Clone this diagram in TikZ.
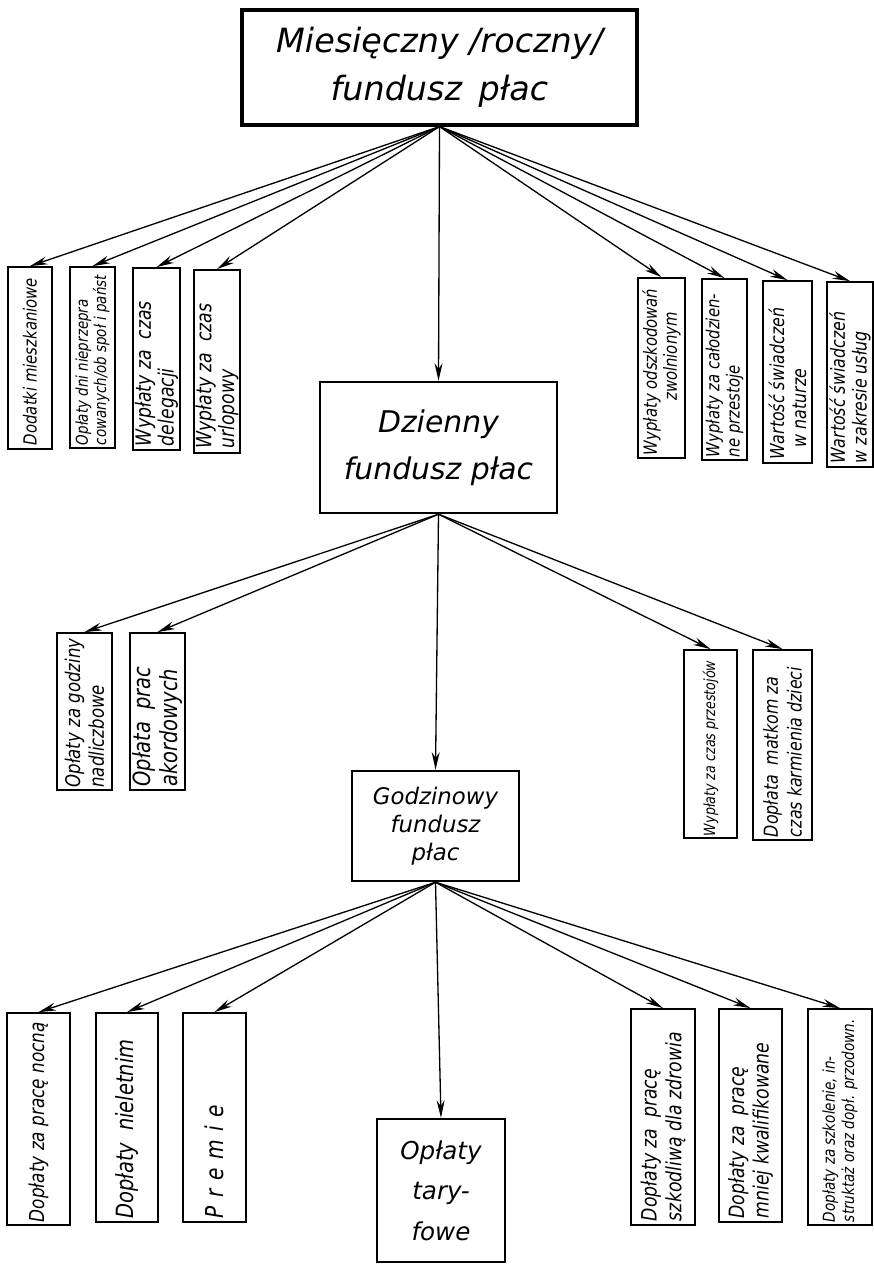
\documentclass[tikz,border=0pt]{standalone}
\usepackage{fontspec}
\setmainfont{DejaVu Sans}
\newfontfamily\wask{DejaVu Sans}[FakeStretch=0.82]
\usepackage{graphicx}
\usetikzlibrary{arrows.meta}

\newlength{\pxu}
\setlength{\pxu}{0.02cm}
% tekst pionowy w waskim prostokacie
\newcommand{\pion}[4]{\rotatebox{90}{\parbox{#1\pxu}{\raggedright\fontsize{#2}{#3}\selectfont #4}}}

\tikzset{
  glowny/.style={draw, line width=1.4pt, align=center, inner sep=0pt},
  boczny/.style 2 args={draw, line width=1pt, inner sep=0pt, font=\wask\itshape,
    minimum width=#1\pxu, minimum height=#2\pxu},
  fan/.style={-{Stealth[length=10pt,width=4.5pt]}, line width=0.75pt},
}

\begin{document}
\begin{tikzpicture}[x=0.02cm, y=-0.02cm]
\useasboundingbox (0,0) rectangle (874,1264);

% fundusze
\node[glowny, line width=1.8pt, minimum width=395\pxu, minimum height=115\pxu,
  font=\itshape\fontsize{19}{27}\selectfont] (mies) at (439.5,67.5)
  {Miesięczny /roczny/\\fundusz\enspace płac};
\node[glowny, minimum width=237\pxu, minimum height=131\pxu,
  font=\itshape\fontsize{17}{27}\selectfont] (dzien) at (438.5,447.5)
  {Dzienny\\fundusz płac};
\node[glowny, minimum width=167\pxu, minimum height=110\pxu,
  font=\itshape\fontsize{13}{16}\selectfont] (godz) at (435.5,826)
  {Godzinowy\\fundusz\\płac};
\node[glowny, line width=1.2pt, minimum width=128\pxu, minimum height=143\pxu,
  font=\itshape\fontsize{14}{23}\selectfont] (taryf) at (441,1190.5)
  {Opłaty\\tary-\\fowe};

% skladniki funduszu miesiecznego
\node[boczny={44}{182}] (m1) at (30,358) {\pion{174}{10.3}{11}{Dodatki mieszkaniowe}};
\node[boczny={45}{181}] (m2) at (92.5,357.5) {\pion{175}{9.3}{10.5}{Opłaty dni nieprzepra\\cowanych/ob społ i państ}};
\node[boczny={47}{182}] (m3) at (156.5,359) {\pion{174}{12}{13}{Wypłaty za\enspace czas\\delegacji}};
\node[boczny={46}{183}] (m4) at (217,361.5) {\pion{174}{12}{13}{Wypłaty za\enspace czas\\urlopowy}};
\node[boczny={47}{180}] (m5) at (661.5,368) {\pion{174}{10.3}{11.5}{Wypłaty odszkodowań\\\hspace*{3em}zwolnionym}};
\node[boczny={45}{181}] (m6) at (724.5,369.5) {\pion{175}{10.3}{11.5}{Wypłaty za całodzien-\\ne przestoje}};
\node[boczny={49}{182}] (m7) at (787.5,372) {\pion{174}{11}{12.5}{Wartość świadczeń\\\hspace*{0.6em}w naturze}};
\node[boczny={46}{185}] (m8) at (850,374.5) {\pion{177}{11}{12.5}{Wartość świadczeń\\w zakresie usług}};

% skladniki funduszu dziennego
\node[boczny={55}{157}] (d1) at (84.5,711.5) {\pion{152}{11.5}{13.5}{Opłaty za godziny\\nadliczbowe}};
\node[boczny={55}{157}] (d2) at (157.5,711.5) {\pion{150}{13.5}{15}{Opłata\enspace prac\\akordowych}};
\node[boczny={53}{188}] (d3) at (710.5,744) {\pion{184}{8.8}{10}{Wypłaty za czas przestojów}};
\node[boczny={59}{190}] (d4) at (782.5,745) {\pion{184}{11}{13.5}{Dopłata\enspace matkom za\\czas karmienia dzieci}};

% skladniki funduszu godzinowego
\node[boczny={63}{212}] (g1) at (38.5,1119) {\pion{206}{11.7}{13}{Dopłaty za pracę nocną}};
\node[boczny={62}{209}] (g2) at (127,1117.5) {\pion{202}{13.5}{15}{Dopłaty\enspace nieletnim}};
\node[boczny={63}{209}] (g3) at (214.5,1117.5) {\pion{202}{14}{15}{P\hspace{.35em}r\hspace{.35em}e\hspace{.35em}m\hspace{.35em}i\hspace{.35em}e}};
\node[boczny={64}{216}] (g4) at (663,1117) {\pion{208}{12}{14}{Dopłaty za\enspace pracę\\szkodliwą dla zdrowia}};
\node[boczny={63}{213}] (g5) at (750.5,1115.5) {\pion{206}{12}{14}{Dopłaty za\enspace pracę\\mniej kwalifikowane}};
\node[boczny={64}{216}] (g6) at (840,1117) {\pion{210}{9.4}{11}{Dopłaty za szkolenie, in-\\struktaż oraz dopł. przodown.}};

% strzalki
\draw[fan] (mies.south) -- (m1.north);
\draw[fan] (mies.south) -- (m2.north);
\draw[fan] (mies.south) -- (m3.north);
\draw[fan] (mies.south) -- (m4.north);
\draw[fan] (mies.south) -- (m5.north);
\draw[fan] (mies.south) -- (m6.north);
\draw[fan] (mies.south) -- (m7.north);
\draw[fan] (mies.south) -- (m8.north);
\draw[fan] (mies.south) -- (dzien.north);

\draw[fan] (dzien.south) -- (d1.north);
\draw[fan] (dzien.south) -- (d2.north);
\draw[fan] (dzien.south) -- (d3.north);
\draw[fan] (dzien.south) -- (d4.north);
\draw[fan] (dzien.south) -- (godz.north);

\draw[fan] (godz.south) -- (g1.north);
\draw[fan] (godz.south) -- (g2.north);
\draw[fan] (godz.south) -- (g3.north);
\draw[fan] (godz.south) -- (g4.north);
\draw[fan] (godz.south) -- (g5.north);
\draw[fan] (godz.south) -- (g6.north);
\draw[fan] (godz.south) -- (taryf.north);
\end{tikzpicture}
\end{document}
